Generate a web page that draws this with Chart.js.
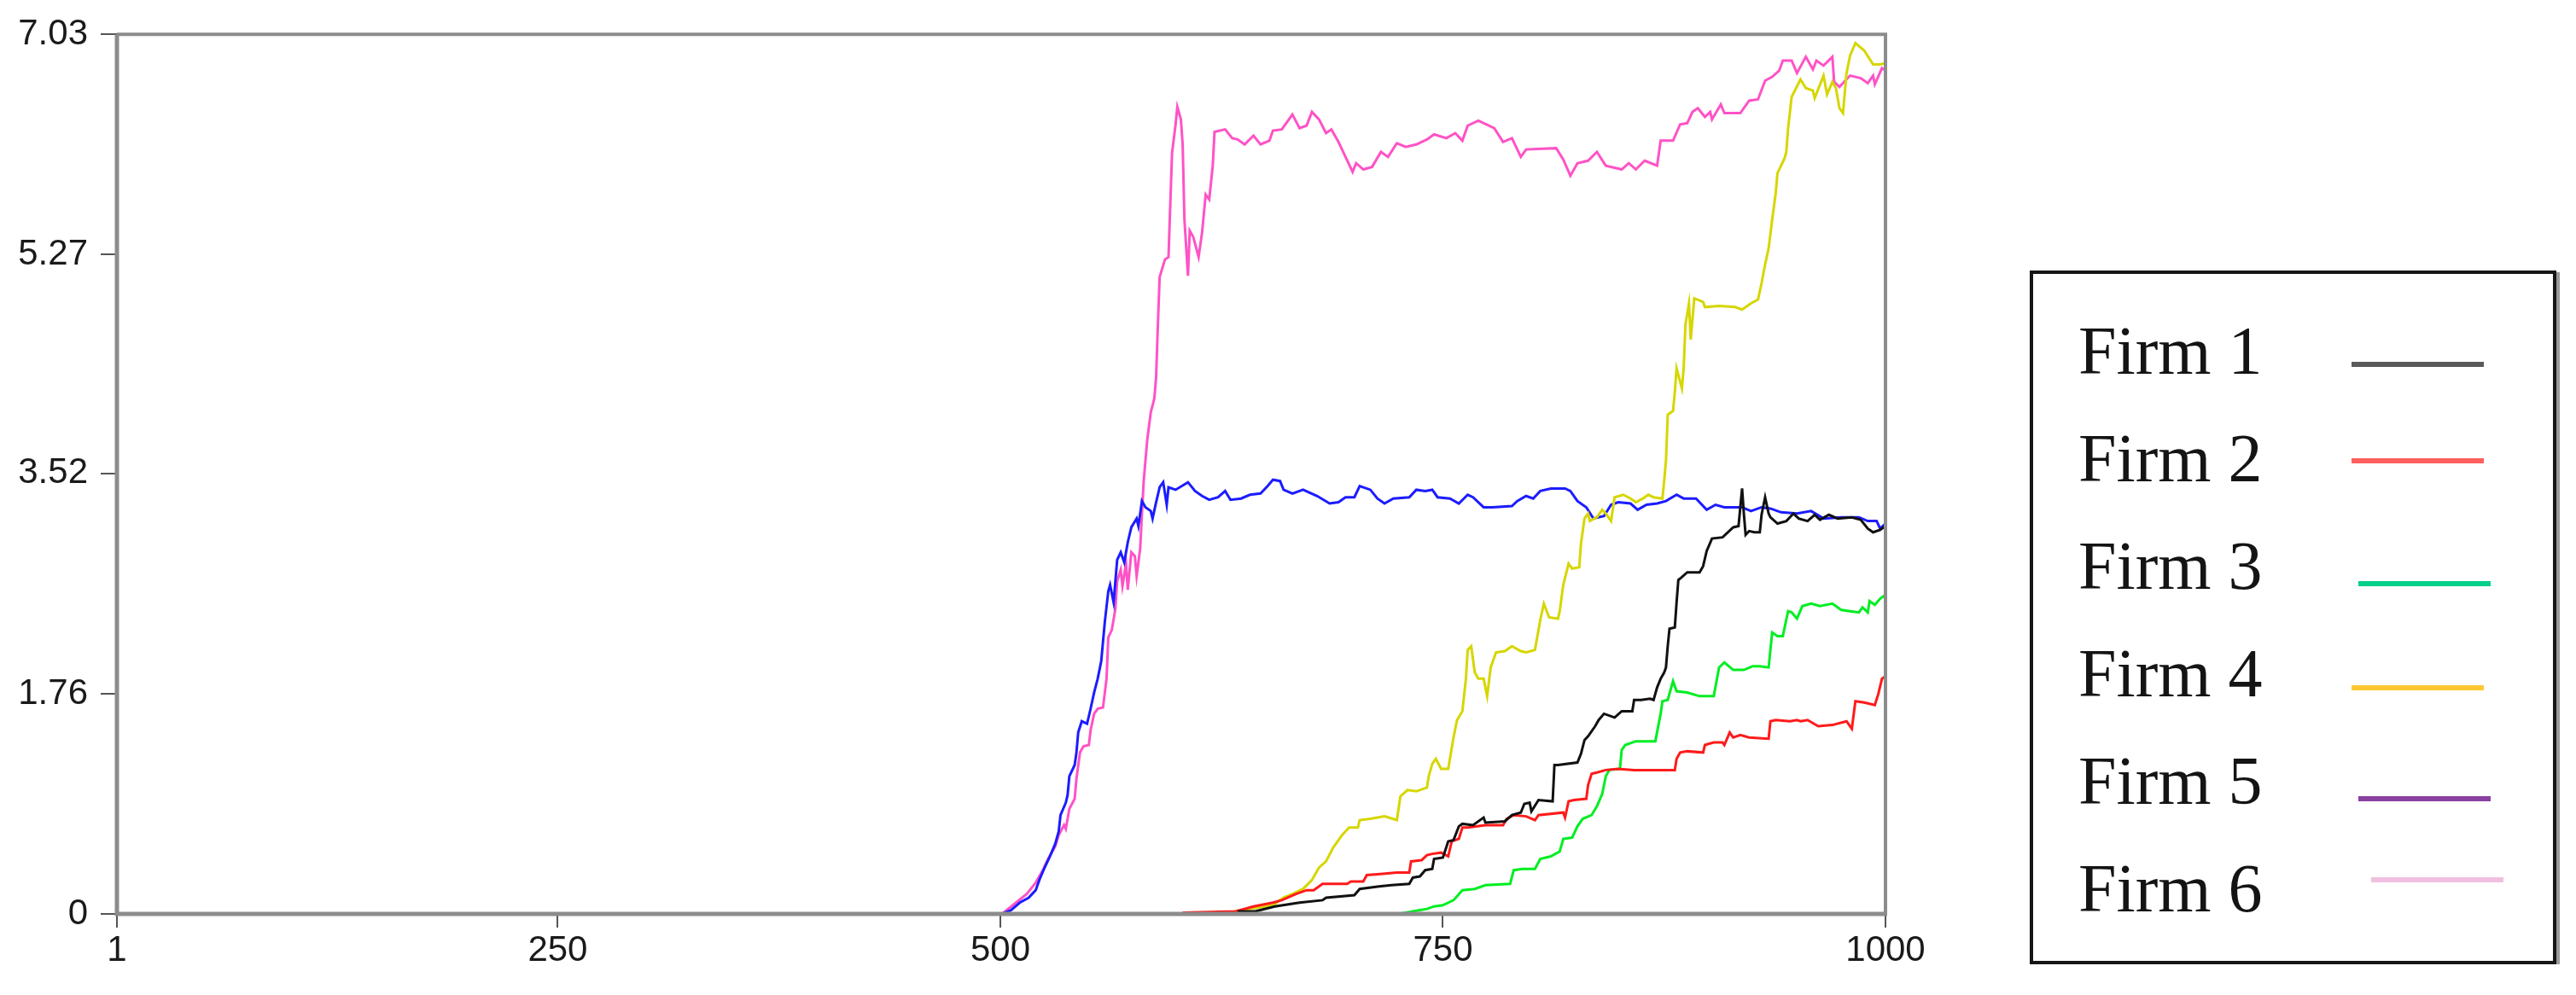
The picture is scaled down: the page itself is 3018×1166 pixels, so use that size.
<!DOCTYPE html>
<html>
<head>
<meta charset="utf-8">
<script src="https://cdn.jsdelivr.net/npm/chart.js"></script>
<style>
  html, body { margin: 0; padding: 0; background: #fff; overflow: hidden; }
  #wrap { position: absolute; left: 0; top: 0; width: 2300px; height: 1166px; }
  #legend { position: absolute; left: 0; top: 0; }
</style>
</head>
<body>
<div id="wrap"><canvas id="chart" width="2300" height="1166"></canvas></div>
<svg id="legend" width="3018" height="1166"></svg>
<script>
// ---------------------------------------------------------
// DATA ([period, value])
// ---------------------------------------------------------
const firmNames = ["Firm 1", "Firm 2", "Firm 3", "Firm 4", "Firm 5", "Firm 6"];
const xTicks = [1, 250, 500, 750, 1000];
const yTicks = [0, 1.76, 3.52, 5.27, 7.03];

const firm1 = [[634,0.02],[644,0.02],[655,0.06],[669,0.09],[682,0.11],[684,0.13],[700,0.15],[703,0.20],[714,0.22],[721,0.23],[731,0.24],[733,0.29],[737,0.30],[740,0.35],[744,0.36],[745,0.44],[750,0.45],[753,0.58],[756,0.59],[759,0.70],[761,0.72],[767,0.71],[773,0.77],[774,0.73],[785,0.74],[789,0.79],[794,0.81],[796,0.88],[799,0.89],[800,0.82],[804,0.91],[812,0.90],[813,1.19],[815,1.19],[826,1.21],[828,1.28],[830,1.39],[832,1.42],[836,1.50],[838,1.55],[841,1.60],[847,1.57],[851,1.62],[857,1.62],[858,1.71],[862,1.71],[867,1.72],[869,1.71],[871,1.81],[873,1.88],[875,1.93],[876,1.97],[877,2.14],[878,2.28],[881,2.29],[882,2.49],[883,2.67],[884,2.68],[888,2.73],[895,2.73],[897,2.78],[899,2.90],[902,3.00],[908,3.01],[914,3.09],[917,3.10],[918,3.25],[919,3.40],[920,3.20],[921,3.03],[923,3.06],[926,3.05],[929,3.05],[930,3.19],[932,3.33],[934,3.20],[935,3.17],[939,3.12],[944,3.14],[948,3.20],[951,3.16],[956,3.14],[960,3.19],[963,3.15],[968,3.19],[973,3.16],[981,3.17],[986,3.15],[990,3.08],[993,3.05],[997,3.07],[1000,3.10]];

const firm2 = [[603,0.01],[633,0.02],[643,0.06],[654,0.09],[659,0.11],[667,0.16],[673,0.19],[677,0.19],[682,0.24],[696,0.24],[698,0.26],[705,0.26],[707,0.31],[716,0.32],[724,0.33],[731,0.33],[732,0.42],[738,0.43],[741,0.47],[744,0.48],[749,0.49],[753,0.46],[755,0.58],[759,0.60],[761,0.69],[764,0.69],[774,0.71],[784,0.71],[786,0.76],[790,0.79],[797,0.78],[802,0.75],[804,0.79],[818,0.81],[819,0.77],[821,0.90],[824,0.91],[831,0.92],[832,1.03],[834,1.12],[837,1.13],[842,1.15],[849,1.16],[858,1.15],[871,1.15],[881,1.15],[882,1.24],[884,1.29],[888,1.30],[897,1.29],[898,1.35],[903,1.37],[908,1.37],[909,1.35],[912,1.45],[914,1.41],[918,1.43],[923,1.41],[934,1.40],[935,1.54],[938,1.55],[946,1.54],[950,1.55],[952,1.54],[956,1.55],[962,1.50],[970,1.51],[978,1.54],[981,1.48],[983,1.70],[988,1.69],[994,1.67],[996,1.76],[998,1.88],[1000,1.90]];

const firm3 = [[725,0],[737,0.03],[741,0.04],[745,0.06],[750,0.07],[756,0.11],[761,0.19],[768,0.20],[774,0.23],[788,0.24],[790,0.35],[795,0.36],[802,0.36],[805,0.44],[811,0.46],[816,0.50],[818,0.60],[823,0.61],[826,0.70],[829,0.76],[834,0.79],[837,0.86],[840,0.96],[842,1.10],[844,1.15],[850,1.16],[851,1.31],[853,1.35],[859,1.38],[870,1.38],[873,1.60],[874,1.70],[877,1.71],[880,1.86],[882,1.78],[888,1.77],[895,1.74],[903,1.74],[906,1.97],[909,2.01],[914,1.95],[920,1.95],[925,1.98],[929,1.98],[934,1.97],[936,2.25],[939,2.22],[942,2.22],[945,2.42],[947,2.41],[950,2.36],[953,2.46],[958,2.48],[963,2.46],[970,2.48],[975,2.43],[980,2.42],[985,2.41],[987,2.45],[990,2.41],[991,2.50],[994,2.47],[997,2.52],[1000,2.55]];

const firm4 = [[632,0.02],[654,0.07],[660,0.13],[665,0.16],[671,0.20],[676,0.27],[680,0.37],[684,0.42],[688,0.53],[693,0.63],[697,0.69],[702,0.69],[703,0.75],[709,0.76],[717,0.78],[724,0.75],[726,0.94],[730,0.99],[735,0.98],[741,1.01],[742,1.10],[744,1.20],[746,1.24],[749,1.16],[753,1.16],[756,1.41],[758,1.55],[761,1.62],[763,1.88],[764,2.11],[766,2.14],[768,1.93],[770,1.88],[773,1.88],[775,1.74],[777,1.97],[780,2.09],[785,2.10],[789,2.14],[794,2.10],[797,2.09],[802,2.11],[805,2.35],[807,2.48],[810,2.37],[815,2.36],[816,2.42],[818,2.63],[821,2.80],[823,2.76],[827,2.77],[828,2.96],[830,3.16],[832,3.20],[833,3.14],[837,3.17],[840,3.23],[842,3.20],[845,3.14],[847,3.33],[852,3.35],[856,3.32],[859,3.29],[863,3.32],[866,3.35],[869,3.33],[874,3.32],[875,3.46],[876,3.62],[877,3.99],[880,4.02],[881,4.17],[882,4.36],[885,4.20],[886,4.36],[887,4.71],[889,4.88],[890,4.59],[892,4.92],[897,4.89],[898,4.85],[906,4.86],[915,4.85],[919,4.83],[924,4.88],[928,4.91],[930,5.04],[932,5.19],[934,5.32],[936,5.55],[938,5.76],[939,5.92],[943,6.04],[944,6.09],[945,6.28],[947,6.53],[952,6.67],[955,6.60],[959,6.58],[960,6.52],[965,6.70],[967,6.55],[970,6.65],[972,6.60],[974,6.44],[976,6.40],[978,6.72],[980,6.86],[983,6.96],[988,6.90],[993,6.79],[997,6.79],[1000,6.80]];

const firm5 = [[501,0],[506,0.03],[511,0.09],[516,0.13],[520,0.19],[522,0.27],[525,0.37],[528,0.46],[531,0.56],[533,0.66],[534,0.79],[537,0.89],[538,0.95],[539,1.10],[542,1.19],[543,1.29],[544,1.45],[546,1.54],[549,1.52],[551,1.64],[553,1.77],[555,1.88],[557,2.02],[559,2.33],[561,2.58],[562,2.63],[564,2.49],[566,2.83],[568,2.89],[570,2.81],[572,2.97],[574,3.09],[577,3.16],[578,3.10],[580,3.30],[582,3.25],[585,3.22],[586,3.16],[588,3.29],[590,3.41],[592,3.45],[594,3.27],[595,3.41],[599,3.39],[606,3.45],[610,3.38],[614,3.34],[618,3.31],[623,3.33],[627,3.38],[630,3.31],[636,3.32],[641,3.35],[647,3.36],[651,3.42],[654,3.47],[658,3.46],[660,3.39],[665,3.36],[671,3.39],[679,3.34],[686,3.28],[691,3.29],[695,3.33],[700,3.33],[703,3.42],[709,3.39],[713,3.32],[717,3.28],[722,3.32],[731,3.33],[735,3.39],[740,3.38],[744,3.39],[747,3.33],[754,3.32],[759,3.28],[764,3.35],[767,3.33],[773,3.25],[778,3.25],[789,3.26],[792,3.30],[797,3.34],[801,3.32],[805,3.38],[811,3.40],[819,3.40],[822,3.38],[826,3.30],[831,3.25],[835,3.16],[841,3.18],[845,3.27],[849,3.29],[856,3.28],[860,3.23],[865,3.27],[871,3.28],[876,3.30],[882,3.35],[886,3.32],[893,3.32],[899,3.23],[904,3.27],[909,3.25],[919,3.25],[924,3.22],[930,3.25],[935,3.24],[941,3.21],[950,3.20],[958,3.22],[965,3.16],[975,3.17],[985,3.17],[990,3.14],[995,3.14],[997,3.08],[1000,3.12]];

const firm6 = [[501,0],[515,0.16],[520,0.25],[524,0.35],[527,0.44],[531,0.54],[533,0.63],[536,0.71],[537,0.68],[539,0.84],[542,0.92],[543,1.08],[545,1.29],[547,1.34],[550,1.35],[551,1.47],[553,1.60],[555,1.64],[558,1.65],[560,1.88],[561,2.21],[563,2.27],[565,2.44],[566,2.66],[568,2.75],[569,2.62],[571,2.80],[572,2.59],[574,2.89],[576,2.86],[577,2.70],[579,2.92],[580,3.20],[581,3.46],[583,3.79],[585,4.01],[587,4.12],[588,4.29],[589,4.71],[590,5.09],[593,5.23],[595,5.25],[596,5.67],[597,6.08],[599,6.31],[600,6.45],[602,6.35],[603,6.15],[604,5.55],[606,5.10],[607,5.46],[609,5.41],[612,5.25],[614,5.45],[616,5.75],[618,5.71],[620,5.98],[621,6.25],[627,6.27],[631,6.20],[634,6.19],[638,6.15],[643,6.22],[647,6.15],[652,6.18],[654,6.26],[659,6.27],[665,6.39],[669,6.28],[673,6.30],[676,6.41],[680,6.35],[684,6.24],[687,6.27],[691,6.17],[695,6.05],[699,5.93],[701,6.00],[705,5.95],[710,5.97],[715,6.09],[719,6.05],[724,6.16],[729,6.13],[735,6.15],[741,6.19],[745,6.23],[752,6.20],[757,6.24],[761,6.18],[764,6.30],[770,6.34],[779,6.28],[784,6.17],[789,6.20],[794,6.05],[797,6.11],[814,6.12],[818,6.03],[822,5.90],[826,6.00],[832,6.02],[837,6.09],[842,5.98],[851,5.95],[855,6.00],[859,5.95],[864,6.02],[871,5.98],[873,6.18],[880,6.18],[884,6.31],[888,6.32],[891,6.41],[894,6.44],[898,6.37],[901,6.41],[902,6.35],[907,6.47],[909,6.40],[918,6.40],[923,6.50],[928,6.51],[932,6.66],[936,6.69],[940,6.74],[942,6.82],[947,6.82],[950,6.72],[955,6.85],[959,6.75],[961,6.82],[965,6.78],[970,6.85],[971,6.65],[974,6.61],[980,6.70],[986,6.68],[990,6.64],[993,6.70],[994,6.63],[998,6.76],[1000,6.74]];

// ---------------------------------------------------------
// STYLES
// ---------------------------------------------------------
const lineColors = ["#111111", "#ff1a1a", "#00ee22", "#d6d600", "#1c1cff", "#ff52c6"];
const legendColors = ["#5a5a5a", "#ff5f5f", "#00d08a", "#ffc832", "#8a40a0", "#f0c0e0"];
const swatchDx = [0, 0, 8, 0, 8, 23];
const swatchDy = [-11, -24, -6, -10, -6, -37];

const series = [firm1, firm2, firm3, firm4, firm5, firm6];

// ---------------------------------------------------------
// FRAME PLUGIN (gray box round the plot)
// ---------------------------------------------------------
const framePlugin = {
  id: "frame",
  afterDraw(chart) {
    const { ctx, chartArea: a } = chart;
    ctx.save();
    ctx.strokeStyle = "#8c8c8c";
    ctx.lineWidth = 4;
    ctx.beginPath();
    ctx.moveTo(a.left, a.top);
    ctx.lineTo(a.right, a.top);
    ctx.lineTo(a.right, a.bottom);
    ctx.stroke();
    ctx.lineWidth = 5;
    ctx.beginPath();
    ctx.moveTo(a.left, a.top);
    ctx.lineTo(a.left, a.bottom);
    ctx.lineTo(a.right + 2, a.bottom);
    ctx.stroke();
    ctx.restore();
  }
};

// ---------------------------------------------------------
// CHART
// ---------------------------------------------------------
new Chart(document.getElementById("chart"), {
  type: "line",
  data: {
    datasets: series.map((s, i) => ({
      label: firmNames[i],
      data: s.map(p => ({ x: p[0], y: p[1] })),
      borderColor: lineColors[i],
      borderWidth: 3,
      pointRadius: 0,
      tension: 0,
      fill: false
    }))
  },
  options: {
    responsive: false,
    animation: false,
    layout: { padding: { top: 35, right: 91, left: 0, bottom: 0 } },
    plugins: {
      legend: { display: false },
      tooltip: { enabled: false }
    },
    scales: {
      x: {
        type: "linear",
        min: 1,
        max: 1000,
        afterBuildTicks: s => { s.ticks = xTicks.map(v => ({ value: v })); },
        afterFit: s => { s.height = 95; },
        grid: { drawOnChartArea: false, tickLength: 16, color: "#555", lineWidth: 2 },
        border: { display: false },
        ticks: {
          color: "#1a1a1a",
          font: { family: "Liberation Sans", size: 42 },
          padding: 2,
          maxRotation: 0,
          callback: v => String(v)
        }
      },
      y: {
        min: 0,
        max: 7.03,
        afterBuildTicks: s => { s.ticks = yTicks.map(v => ({ value: v })); },
        afterFit: s => { s.width = 137; },
        grid: { drawOnChartArea: false, tickLength: 19, color: "#555", lineWidth: 2 },
        border: { display: false },
        ticks: {
          color: "#1a1a1a",
          font: { family: "Liberation Sans", size: 42 },
          padding: 15,
          callback: v => String(v)
        }
      }
    }
  },
  plugins: [framePlugin]
});

// ---------------------------------------------------------
// LEGEND (separate boxed key on the right)
// ---------------------------------------------------------
const svg = document.getElementById("legend");
const NS = "http://www.w3.org/2000/svg";
function el(tag, attrs, text) {
  const e = document.createElementNS(NS, tag);
  Object.entries(attrs).forEach(([k, v]) => e.setAttribute(k, v));
  if (text) e.textContent = text;
  svg.appendChild(e);
  return e;
}
el("rect", { x: 2383, y: 321, width: 614, height: 807, fill: "none", stroke: "#9a9a9a", "stroke-width": 4 });
el("rect", { x: 2380, y: 319, width: 613, height: 809, fill: "#fff", stroke: "#161616", "stroke-width": 4 });
firmNames.forEach((name, i) => {
  const base = 438 + i * 126;
  el("text", { x: 2435, y: base, "font-family": "Liberation Serif", "font-size": 80, fill: "#141414" }, name);
  el("line", {
    x1: 2755 + swatchDx[i], x2: 2910 + swatchDx[i],
    y1: base + swatchDy[i], y2: base + swatchDy[i],
    stroke: legendColors[i], "stroke-width": 6
  });
});
</script>
</body>
</html>
